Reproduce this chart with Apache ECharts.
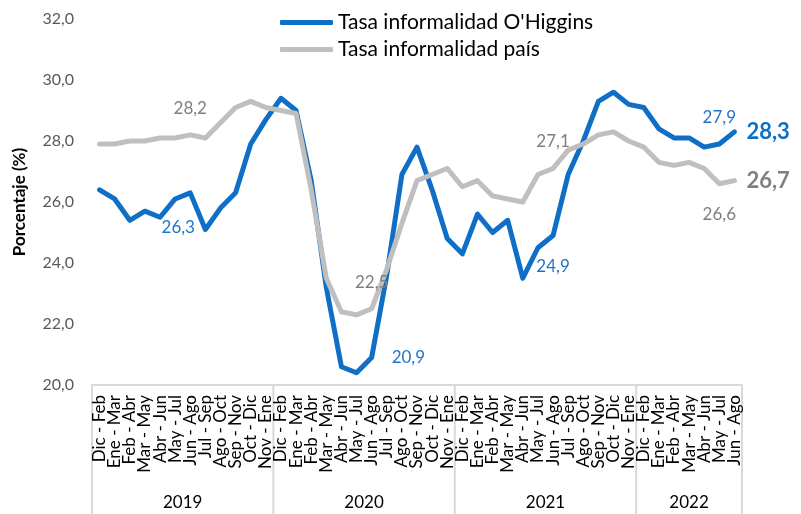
<!DOCTYPE html>
<html><head><meta charset="utf-8">
<script src="https://cdn.jsdelivr.net/npm/echarts@6/dist/echarts.min.js"></script>
<style>html,body{margin:0;padding:0;background:#fff}#c{width:801px;height:514px}</style>
</head><body><div id="c"></div>
<script>
const categories = [
 'Dic - Feb','Ene - Mar','Feb - Abr','Mar - May','Abr - Jun','May - Jul','Jun - Ago','Jul - Sep','Ago - Oct','Sep - Nov','Oct - Dic','Nov - Ene',
 'Dic - Feb','Ene - Mar','Feb - Abr','Mar - May','Abr - Jun','May - Jul','Jun - Ago','Jul - Sep','Ago - Oct','Sep - Nov','Oct - Dic','Nov - Ene',
 'Dic - Feb','Ene - Mar','Feb - Abr','Mar - May','Abr - Jun','May - Jul','Jun - Ago','Jul - Sep','Ago - Oct','Sep - Nov','Oct - Dic','Nov - Ene',
 'Dic - Feb','Ene - Mar','Feb - Abr','Mar - May','Abr - Jun','May - Jul','Jun - Ago'];
const years = ['2019','2020','2021','2022'];
const yearSpans = [12,12,12,7];
const ohiggins = [26.4,26.1,25.4,25.7,25.5,26.1,26.3,25.1,25.8,26.3,27.9,28.7,
 29.4,29.0,26.7,23.2,20.6,20.4,20.9,23.6,26.9,27.8,26.4,24.8,
 24.3,25.6,25.0,25.4,23.5,24.5,24.9,26.9,28.0,29.3,29.6,29.2,
 29.1,28.4,28.1,28.1,27.8,27.9,28.3];
const pais = [27.9,27.9,28.0,28.0,28.1,28.1,28.2,28.1,28.6,29.1,29.3,29.1,
 29.0,28.9,26.4,23.5,22.4,22.3,22.5,23.8,25.3,26.7,26.9,27.1,
 26.5,26.7,26.2,26.1,26.0,26.9,27.1,27.7,27.9,28.2,28.3,28.0,
 27.8,27.3,27.2,27.3,27.1,26.6,26.7];
const seriesNames = ["Tasa informalidad O'Higgins", 'Tasa informalidad país'];
const yTicks = {min:20, max:32, interval:2};

const FONT = 'Lato';
const BLUE = '#0F6FC6', GRAY = '#BFBFBF';
const BLUE_T = '#1F74CC', GRAY_T = '#7F7F7F';
const fmt = v => v.toFixed(1).replace('.', ',');

const blueLabels = {
  6: {position:'bottom', distance:26, offset:[-12,0]},
  18: {position:'right', distance:20},
  30: {position:'bottom', distance:22},
  41: {position:'top', distance:18},
  42: {position:'right', distance:12, bold:true, color:BLUE}
};
const grayLabels = {
  6: {position:'top', distance:18},
  18: {position:'top', distance:18},
  30: {position:'top', distance:18},
  41: {position:'bottom', distance:22},
  42: {position:'right', distance:12, bold:true, color:'#7F7F7F'}
};
function build(values, labels, textColor){
  return values.map((v,i)=>{
    const l = labels[i];
    if(!l) return v;
    return {value:v, label:{show:true, position:l.position, distance:l.distance, offset:l.offset||[0,0],
      color:l.color||textColor, fontFamily:FONT,
      fontSize:l.bold?22:17, fontWeight:l.bold?'bold':'normal',
      formatter:p=>fmt(p.value)}};
  });
}

const chart = echarts.init(document.getElementById('c'));
chart.setOption({
  animation:false,
  textStyle:{fontFamily:FONT},
  grid:{left:92, right:59, top:19, bottom:129, containLabel:false},
  legend:{orient:'vertical', left:275, top:7, itemGap:6, itemWidth:53, itemHeight:5,
    icon:'roundRect',
    textStyle:{fontFamily:FONT, fontSize:21, color:'#000'},
    data:[{name:seriesNames[0], itemStyle:{color:BLUE}}, {name:seriesNames[1], itemStyle:{color:GRAY}}]},
  xAxis:{type:'category', data:categories, boundaryGap:true,
    axisLine:{show:true, lineStyle:{color:'#D9D9D9', width:2}},
    axisTick:{show:false},
    axisLabel:{interval:0, rotate:90, fontFamily:FONT, fontSize:17, color:'#000', margin:10}},
  yAxis:{type:'value', min:yTicks.min, max:yTicks.max, interval:yTicks.interval,
    name:'Porcentaje (%)', nameLocation:'middle', nameGap:64, nameRotate:90,
    nameTextStyle:{fontFamily:FONT, fontSize:17, fontWeight:'bold', color:'#000'},
    axisLine:{show:false}, axisTick:{show:false}, splitLine:{show:false},
    axisLabel:{formatter:fmt, fontFamily:FONT, fontSize:16, color:'#595959', margin:18}},
  series:[
    {name:seriesNames[0], type:'line', data:build(ohiggins, blueLabels, BLUE_T), showSymbol:true, symbol:'circle', symbolSize:0,
      lineStyle:{color:BLUE, width:5, cap:'round', join:'round'}, itemStyle:{color:BLUE}, z:2},
    {name:seriesNames[1], type:'line', data:build(pais, grayLabels, GRAY_T), showSymbol:true, symbol:'circle', symbolSize:0,
      lineStyle:{color:GRAY, width:5, cap:'round', join:'round'}, itemStyle:{color:GRAY}, z:3}
  ]
});

// group axis (years) built from the category axis scale
const x0 = chart.convertToPixel({xAxisIndex:0}, 0);
const x1 = chart.convertToPixel({xAxisIndex:0}, 1);
const band = x1 - x0;
const yAxisPix = chart.convertToPixel({yAxisIndex:0}, yTicks.min);
const H = chart.getHeight();
const elements = [];
let start = 0;
const boundaryX = idx => x0 - band/2 + idx*band;
elements.push({type:'line', shape:{x1:boundaryX(0), y1:yAxisPix, x2:boundaryX(0), y2:H}, style:{stroke:'#D9D9D9', lineWidth:2}});
years.forEach((yr,k)=>{
  const end = start + yearSpans[k];
  const bx = boundaryX(end);
  elements.push({type:'line', shape:{x1:bx, y1:yAxisPix, x2:bx, y2:H}, style:{stroke:'#D9D9D9', lineWidth:2}});
  elements.push({type:'text', x:(boundaryX(start)+bx)/2, y:503,
    style:{text:yr, fill:'#000', font:'17px '+FONT, textAlign:'center', textVerticalAlign:'middle'}});
  start = end;
});
chart.setOption({graphic:elements});
</script></body></html>
